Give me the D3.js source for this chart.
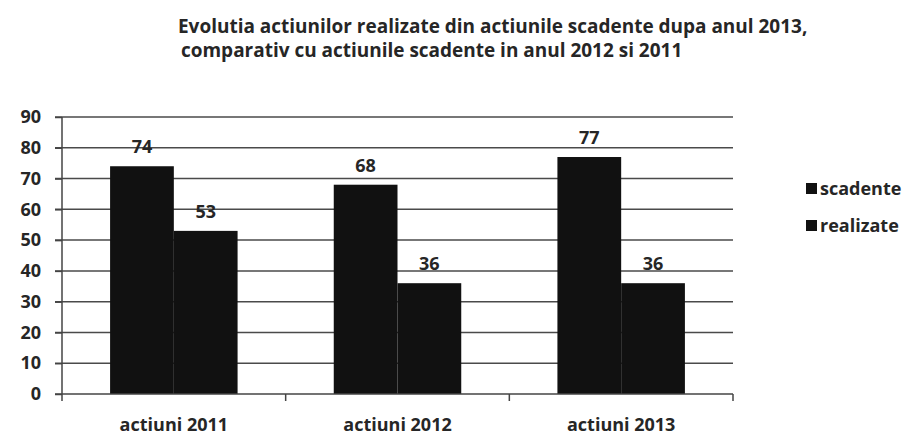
<!DOCTYPE html>
<html><head><meta charset="utf-8">
<script src="https://cdn.jsdelivr.net/npm/d3@7"></script>
<style>body{margin:0;background:#fff;}svg{display:block;}</style>
</head><body>
<svg id="c" width="907" height="440"></svg>
<script>
const categories = ["actiuni 2011", "actiuni 2012", "actiuni 2013"];
const seriesNames = ["scadente", "realizate"];
const scadente = [74, 68, 77];
const realizate = [53, 36, 36];
const yTicks = [0, 10, 20, 30, 40, 50, 60, 70, 80, 90];
const titleLines = ["Evolutia actiunilor realizate din actiunile scadente dupa anul 2013,", "comparativ cu actiunile scadente in anul 2012 si 2011"];

const svg = d3.select("#c");
const font = "'Open Sans', sans-serif";
const barColor = "#111";
const textColor = "#262626";
const lblSize = 18;

const x0 = d3.scaleBand().domain(categories).range([62, 733]).padding(0);
const bw = x0.bandwidth();
const x1 = d3.scaleBand().domain(seriesNames).range([bw * 0.215, bw * 0.785]).padding(0);
const y = d3.scaleLinear().domain([0, 90]).range([394, 117]);

// gridlines
svg.append("g").selectAll("line").data(yTicks.filter(d => d > 0)).join("line")
  .attr("x1", 55).attr("x2", 733)
  .attr("y1", d => y(d)).attr("y2", d => y(d))
  .attr("stroke", "#4a4a4a").attr("stroke-width", 1.5);

// y axis
const yAxis = svg.append("g").attr("transform", "translate(62,0)")
  .call(d3.axisLeft(y).tickValues(yTicks).tickSize(7).tickPadding(14));
yAxis.select(".domain").attr("stroke", "#444").attr("stroke-width", 1.5).attr("d", "M0,117V401");
yAxis.selectAll(".tick line").attr("stroke", "#444").attr("stroke-width", 1.5);
yAxis.selectAll("text").attr("font-family", font).attr("font-size", lblSize).attr("font-weight", 700).attr("fill", textColor);

// bars
const rows = categories.map((c, i) => ({c, vals: [{s: "scadente", v: scadente[i]}, {s: "realizate", v: realizate[i]}]}));
const g = svg.append("g").selectAll("g").data(rows).join("g")
  .attr("transform", d => `translate(${x0(d.c)},0)`);
g.selectAll("rect").data(d => d.vals).join("rect")
  .attr("x", d => x1(d.s)).attr("width", x1.bandwidth())
  .attr("y", d => y(d.v)).attr("height", d => y(0) - y(d.v))
  .attr("fill", barColor);
g.selectAll("text").data(d => d.vals).join("text")
  .attr("x", d => x1(d.s) + x1.bandwidth() / 2)
  .attr("y", d => y(d.v) - 13)
  .attr("text-anchor", "middle")
  .attr("font-family", font).attr("font-size", lblSize).attr("font-weight", 700).attr("fill", textColor)
  .text(d => d.v);

// x axis
const xAxis = svg.append("g").attr("transform", `translate(0,${y(0)})`)
  .call(d3.axisBottom(x0).tickSize(0).tickPadding(24));
xAxis.select(".domain").attr("stroke", "#444").attr("stroke-width", 1.5).attr("d", "M55,0H733");
xAxis.selectAll("text").attr("font-family", font).attr("font-size", lblSize).attr("font-weight", 700).attr("fill", textColor);
svg.append("g").selectAll("line").data(categories).join("line")
  .attr("x1", d => x0(d) + bw).attr("x2", d => x0(d) + bw)
  .attr("y1", y(0)).attr("y2", y(0) + 7)
  .attr("stroke", "#444").attr("stroke-width", 1.5);

// legend
const leg = svg.append("g").selectAll("g").data(seriesNames).join("g")
  .attr("transform", (d, i) => `translate(806,${195 + i * 37})`);
leg.append("rect").attr("x", 0).attr("y", -12).attr("width", 11).attr("height", 11).attr("fill", barColor);
leg.append("text").attr("x", 14).attr("y", 0)
  .attr("font-family", font).attr("font-size", 18).attr("font-weight", 700).attr("fill", textColor)
  .text(d => d);

// title
const tt = svg.append("g").selectAll("text").data(titleLines).join("text")
  .attr("x", (d, i) => i === 0 ? 178 : 181).attr("y", (d, i) => 33 + i * 24)
  .attr("font-family", font).attr("font-size", 16).attr("font-weight", 700).attr("fill", textColor)
  .text(d => d);
const target = 630;
const len0 = tt.nodes()[0].getComputedTextLength();
tt.attr("font-size", 16 * target / len0);
</script>
</body></html>
